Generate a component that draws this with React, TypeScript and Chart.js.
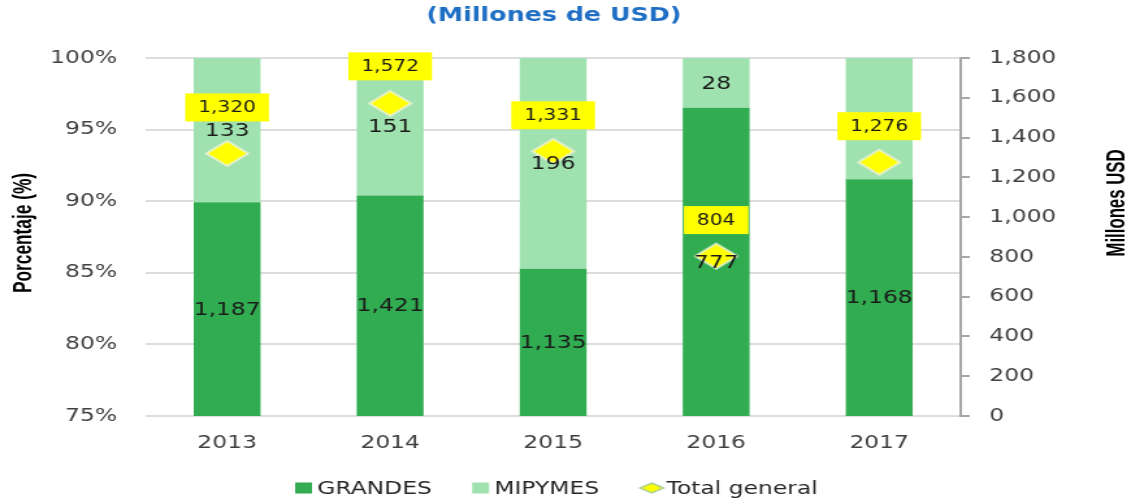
import React, { useEffect, useRef } from 'react';
import { Chart, registerables } from 'chart.js';

Chart.register(...registerables);

// ---- data ----
const YEARS = ['2013', '2014', '2015', '2016', '2017'];
const GRANDES = [1187, 1421, 1135, 777, 1168];
const MIPYMES = [133, 151, 196, 28, 108];
const TOTAL = [1320, 1572, 1331, 804, 1276];
const SERIES_NAMES = ['GRANDES', 'MIPYMES', 'Total general'];
const TITLE = '(Millones de USD)';
const LEFT_TITLE = 'Porcentaje (%)';
const RIGHT_TITLE = 'Millones USD';

// ---- styling ----
const W = 1131;
const H = 499;
const SX = 1.3; // the reference is horizontally stretched
const CW = Math.round(W / SX);
const C_GRANDES = '#31AC51';
const C_MIPYMES = '#A0E2AF';
const C_YELLOW = '#FFFF00';
const NUM_FONT = "'DejaVu Sans', sans-serif";
const TITLE_FONT = "'Liberation Sans', Arial, sans-serif";
// vertical lift of each total label box above its marker (px)
const BOX_LIFT = [46, 37, 36, 36, 36];
const fmt = (v: number) => v.toLocaleString('en-US');

function diamond(w: number, h: number, stroke: string, lw: number) {
  const c = document.createElement('canvas');
  c.width = w + 4;
  c.height = h + 4;
  const g = c.getContext('2d')!;
  g.beginPath();
  g.moveTo(c.width / 2, 2);
  g.lineTo(c.width - 2, c.height / 2);
  g.lineTo(c.width / 2, c.height - 2);
  g.lineTo(2, c.height / 2);
  g.closePath();
  g.fillStyle = C_YELLOW;
  g.fill();
  g.strokeStyle = stroke;
  g.lineWidth = lw;
  g.stroke();
  return c;
}

function narrowText(ctx: CanvasRenderingContext2D, text: string, x: number, y: number, squeeze: number) {
  ctx.save();
  ctx.translate(x, y);
  ctx.rotate(-Math.PI / 2);
  ctx.scale(squeeze, 1);
  ctx.fillText(text, 0, 0);
  ctx.restore();
}

export default function App() {
  const ref = useRef<HTMLCanvasElement>(null);

  useEffect(() => {
    const canvas = ref.current!;
    const pointImg = diamond(32, 25, 'rgba(235,242,220,0.85)', 2);
    const legendImg = diamond(18, 10, '#A9D18E', 1.5);

    const pctG = GRANDES.map((g, i) => (g / (g + MIPYMES[i])) * 100);
    const pctM = MIPYMES.map((m, i) => (m / (GRANDES[i] + m)) * 100);

    const overlay = {
      id: 'overlay',
      afterDatasetsDraw(chart: any) {
        const ctx = chart.ctx;
        const area = chart.chartArea;
        ctx.save();
        ctx.textAlign = 'center';
        ctx.textBaseline = 'middle';
        // total label boxes (geometry first, drawn last)
        ctx.font = `15.5px ${NUM_FONT}`;
        const boxes = chart.getDatasetMeta(2).data.map((el: any, i: number) => {
          const text = fmt(TOTAL[i]);
          const bw = ctx.measureText(text).width + 20;
          const bh = 28;
          const cx = el.x;
          const cy = el.y - BOX_LIFT[i];
          return { text, cx, cy, x0: cx - bw / 2, x1: cx + bw / 2, y0: cy - bh / 2, y1: cy + bh / 2 };
        });
        ctx.font = `18px ${NUM_FONT}`;
        ctx.fillStyle = '#1a1a1a';
        [0, 1].forEach((di) => {
          const vals = di === 0 ? GRANDES : MIPYMES;
          chart.getDatasetMeta(di).data.forEach((el: any, i: number) => {
            const p = el.getProps(['x', 'y', 'base'], true);
            const top = Math.max(Math.min(p.y, p.base), area.top);
            const bot = Math.min(Math.max(p.y, p.base), area.bottom);
            if (bot - top < 4) return;
            const ty = (top + bot) / 2 + 1;
            const b = boxes[i];
            // a label that sits behind its total box is hidden in the reference
            if (ty > b.y0 - 2 && ty < b.y1 + 2) return;
            ctx.fillText(fmt(vals[i]), p.x, ty);
          });
        });
        ctx.font = `15.5px ${NUM_FONT}`;
        boxes.forEach((b: any) => {
          ctx.fillStyle = C_YELLOW;
          ctx.fillRect(b.x0, b.y0, b.x1 - b.x0, b.y1 - b.y0);
          ctx.fillStyle = '#1a1a1a';
          ctx.fillText(b.text, b.cx, b.cy + 1);
        });
        ctx.restore();
      },
      afterDraw(chart: any) {
        const ctx = chart.ctx;
        ctx.save();
        // title
        ctx.font = `bold 19.5px 'DejaVu Sans', sans-serif`;
        ctx.fillStyle = '#1F6FC5';
        ctx.textAlign = 'center';
        ctx.textBaseline = 'middle';
        ctx.fillText(TITLE, 426, 16);
        // axis titles
        ctx.font = `bold 21px ${TITLE_FONT}`;
        ctx.fillStyle = '#000';
        const lw = ctx.measureText(LEFT_TITLE).width;
        narrowText(ctx, LEFT_TITLE, 18, 233, 120 / lw);
        const rw = ctx.measureText(RIGHT_TITLE).width;
        narrowText(ctx, RIGHT_TITLE, 859, 203, 107 / rw);
        // legend
        ctx.font = `18px ${NUM_FONT}`;
        ctx.textAlign = 'left';
        const items = [
          { kind: 'rect', color: C_GRANDES, iw: 13, gap: 4 },
          { kind: 'rect', color: C_MIPYMES, iw: 13, gap: 4 },
          { kind: 'img', color: '', iw: 19, gap: 2 },
        ];
        const between = 31;
        const widths = items.map((it, i) => it.iw + it.gap + ctx.measureText(SERIES_NAMES[i]).width);
        const total = widths.reduce((a, b) => a + b, 0) + between * (items.length - 1);
        let x = 428 - total / 2;
        const y = 488;
        items.forEach((it, i) => {
          if (it.kind === 'rect') {
            ctx.fillStyle = it.color;
            ctx.fillRect(x, y - 5.5, 13, 11);
          } else {
            ctx.drawImage(legendImg, x + it.iw / 2 - legendImg.width / 2, y - legendImg.height / 2);
          }
          ctx.fillStyle = '#262626';
          ctx.fillText(SERIES_NAMES[i], x + it.iw + it.gap, y + 1);
          x += widths[i] + between;
        });
        ctx.restore();
      },
    };

    const chart = new Chart(canvas, {
      type: 'bar',
      data: {
        labels: YEARS,
        datasets: [
          {
            type: 'bar',
            label: SERIES_NAMES[0],
            data: pctG,
            backgroundColor: C_GRANDES,
            yAxisID: 'y',
            stack: 's',
            order: 2,
            barPercentage: 0.41,
            categoryPercentage: 1,
          },
          {
            type: 'bar',
            label: SERIES_NAMES[1],
            data: pctM,
            backgroundColor: C_MIPYMES,
            yAxisID: 'y',
            stack: 's',
            order: 2,
            barPercentage: 0.41,
            categoryPercentage: 1,
          },
          {
            type: 'line',
            label: SERIES_NAMES[2],
            data: TOTAL,
            yAxisID: 'y2',
            showLine: false,
            pointStyle: pointImg as any,
            pointRadius: 14,
            order: 0,
          } as any,
        ],
      },
      plugins: [overlay],
      options: {
        responsive: false,
        animation: false,
        devicePixelRatio: 1,
        layout: { padding: { top: 58, left: 0, right: 0, bottom: 0 } },
        plugins: {
          legend: { display: false },
          title: { display: false },
          tooltip: { enabled: false },
        },
        scales: {
          x: {
            stacked: true,
            grid: { display: false },
            border: { display: false },
            ticks: { color: '#404040', font: { family: NUM_FONT, size: 18 }, padding: 9 },
            afterFit: (s: any) => {
              s.height = 83;
            },
          },
          y: {
            stacked: true,
            position: 'left',
            min: 75,
            max: 100,
            grid: { color: '#DDDDDD', lineWidth: 2, drawTicks: false },
            border: { display: false },
            ticks: {
              stepSize: 5,
              color: '#404040',
              font: { family: NUM_FONT, size: 18 },
              padding: 22,
              callback: (v: any) => `${v}%`,
            },
            afterFit: (s: any) => {
              s.width = 112;
            },
          },
          y2: {
            position: 'right',
            min: 0,
            max: 1800,
            grid: { drawOnChartArea: false, drawTicks: true, tickLength: 7, color: '#A6A6A6', lineWidth: 2 },
            border: { display: true, color: '#A6A6A6', width: 2 },
            ticks: {
              stepSize: 200,
              color: '#404040',
              font: { family: NUM_FONT, size: 18 },
              padding: 15,
              callback: (v: any) => fmt(Number(v)),
            },
            afterFit: (s: any) => {
              s.width = CW - 739;
            },
          },
        },
      } as any,
    });
    return () => chart.destroy();
  }, []);

  return (
    <div style={{ position: 'fixed', left: 0, top: 0, width: W, height: H, background: '#fff' }}>
      <canvas ref={ref} width={CW} height={H} style={{ width: `${W}px`, height: `${H}px`, display: 'block' }} />
    </div>
  );
}
